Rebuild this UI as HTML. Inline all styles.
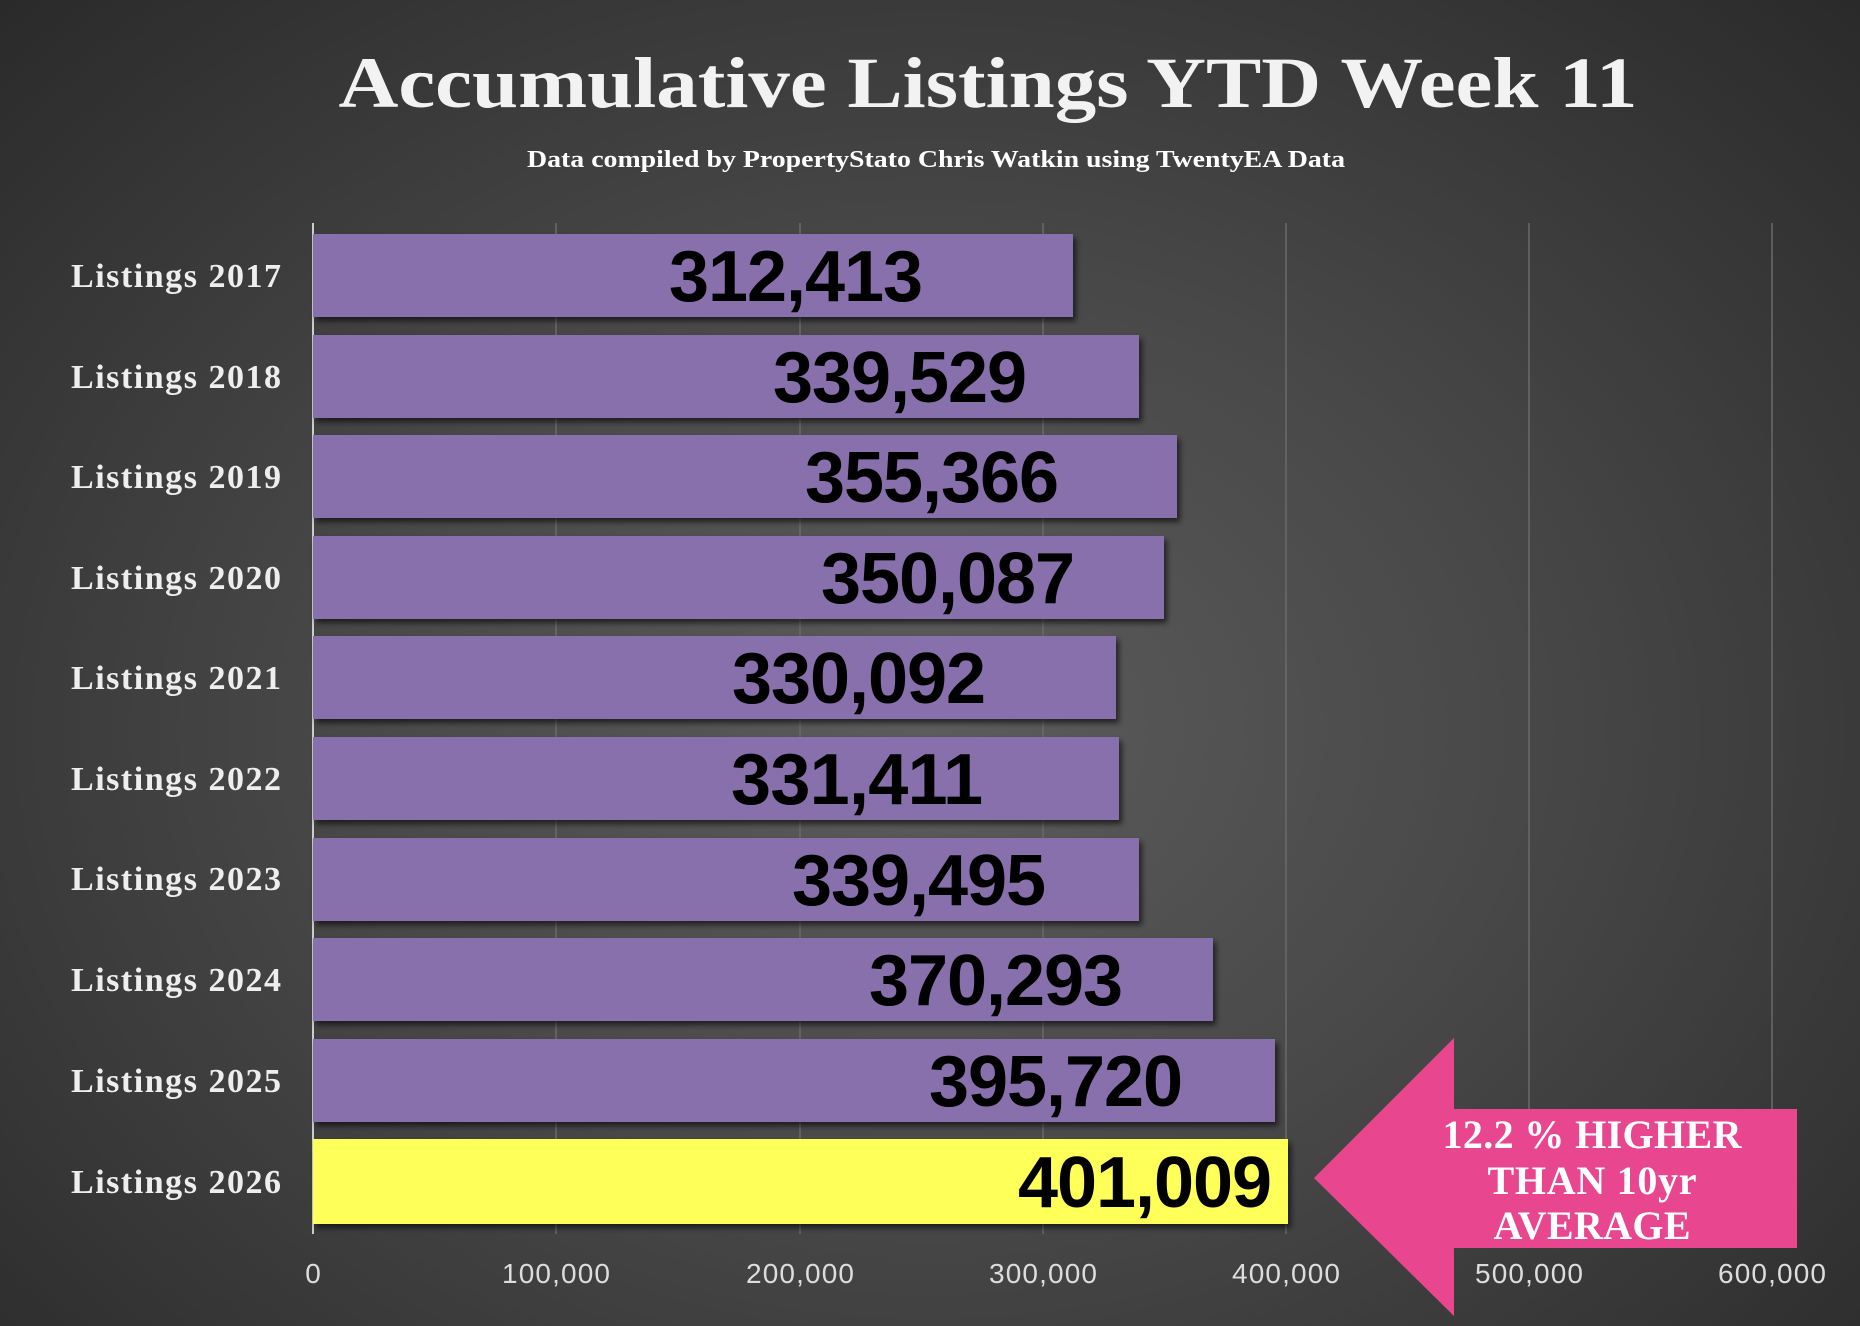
<!DOCTYPE html>
<html><head><meta charset="utf-8"><style>
html,body{margin:0;padding:0;}
body{width:1860px;height:1326px;overflow:hidden;background:radial-gradient(ellipse at 50% 55%,#5c5c5c 0%,#484848 45%,#2a2a2a 100%);}
</style></head><body>
<svg width="1860" height="1326" xmlns="http://www.w3.org/2000/svg" style="position:absolute;left:0;top:0">
<defs><filter id="sh" x="-5%" y="-10%" width="115%" height="130%"><feDropShadow dx="3" dy="4" stdDeviation="3" flood-color="#000" flood-opacity="0.6"/></filter></defs>
<text x="988" y="107" text-anchor="middle" font-family="Liberation Serif, serif" font-weight="bold" font-size="72" fill="#f2f2f2" textLength="1299" lengthAdjust="spacingAndGlyphs">Accumulative Listings YTD Week 11</text>
<text x="936" y="167" text-anchor="middle" font-family="Liberation Serif, serif" font-weight="bold" font-size="24" fill="#ffffff" textLength="818" lengthAdjust="spacingAndGlyphs">Data compiled by PropertyStato Chris Watkin using TwentyEA Data</text>
<g stroke="#6a6a6a" stroke-width="1.5">
<line x1="556" y1="223" x2="556" y2="1234"/><line x1="800" y1="223" x2="800" y2="1234"/><line x1="1043" y1="223" x2="1043" y2="1234"/><line x1="1286" y1="223" x2="1286" y2="1234"/><line x1="1529" y1="223" x2="1529" y2="1234"/><line x1="1772" y1="223" x2="1772" y2="1234"/>
</g>
<line x1="313" y1="223" x2="313" y2="1234" stroke="#cccccc" stroke-width="2"/>
<g font-family="Liberation Sans, sans-serif" font-size="28" fill="#dddddd" text-anchor="middle" lengthAdjust="spacingAndGlyphs">
<text x="313" y="1283">0</text><text x="556" y="1283" textLength="108">100,000</text><text x="800" y="1283" textLength="108">200,000</text><text x="1043" y="1283" textLength="108">300,000</text><text x="1286" y="1283" textLength="108">400,000</text><text x="1529" y="1283" textLength="108">500,000</text><text x="1772" y="1283" textLength="108">600,000</text>
</g>
<g filter="url(#sh)">
<rect x="313" y="234" width="760" height="83" fill="#8770ab"/>
<rect x="313" y="335" width="826" height="83" fill="#8770ab"/>
<rect x="313" y="435" width="864" height="83" fill="#8770ab"/>
<rect x="313" y="536" width="851" height="83" fill="#8770ab"/>
<rect x="313" y="636" width="803" height="83" fill="#8770ab"/>
<rect x="313" y="737" width="806" height="83" fill="#8770ab"/>
<rect x="313" y="838" width="826" height="83" fill="#8770ab"/>
<rect x="313" y="938" width="900" height="83" fill="#8770ab"/>
<rect x="313" y="1039" width="962" height="83" fill="#8770ab"/>
<rect x="313" y="1139" width="975" height="85" fill="#ffff5a"/>
</g>
<g font-family="Liberation Serif, serif" font-weight="bold" font-size="34" fill="#eeeeee" text-anchor="end" lengthAdjust="spacingAndGlyphs">
<text x="281" y="287" textLength="210">Listings 2017</text><text x="281" y="388" textLength="210">Listings 2018</text><text x="281" y="488" textLength="210">Listings 2019</text><text x="281" y="589" textLength="210">Listings 2020</text><text x="281" y="689" textLength="210">Listings 2021</text><text x="281" y="790" textLength="210">Listings 2022</text><text x="281" y="890" textLength="210">Listings 2023</text><text x="281" y="991" textLength="210">Listings 2024</text><text x="281" y="1092" textLength="210">Listings 2025</text><text x="281" y="1193" textLength="210">Listings 2026</text>
</g>
<g font-family="Liberation Sans, sans-serif" font-weight="bold" font-size="72" fill="#000" text-anchor="middle" lengthAdjust="spacingAndGlyphs">
<text x="796" y="301" textLength="254">312,413</text>
<text x="900" y="402" textLength="254">339,529</text>
<text x="932" y="502" textLength="254">355,366</text>
<text x="948" y="603" textLength="254">350,087</text>
<text x="859" y="703" textLength="254">330,092</text>
<text x="857" y="804" textLength="252">331,411</text>
<text x="919" y="905" textLength="254">339,495</text>
<text x="996" y="1005" textLength="254">370,293</text>
<text x="1056" y="1106" textLength="254">395,720</text>
<text x="1145" y="1207" textLength="254">401,009</text>
</g>
<polygon points="1314,1178 1454,1038 1454,1109 1797,1109 1797,1248 1454,1248 1454,1316" fill="#e8468f"/>
<g font-family="Liberation Serif, serif" font-weight="bold" font-size="40" fill="#ffffff" text-anchor="middle" lengthAdjust="spacingAndGlyphs">
<text x="1592" y="1148" textLength="299">12.2 % HIGHER</text><text x="1592" y="1194" textLength="209">THAN 10yr</text><text x="1592" y="1239" textLength="197">AVERAGE</text>
</g>
</svg>
</body></html>
